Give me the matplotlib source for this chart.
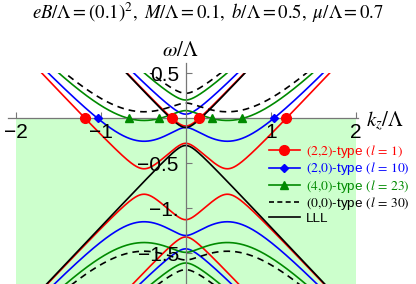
import numpy as np
import matplotlib
matplotlib.use("Agg")
import matplotlib.pyplot as plt
from matplotlib.patches import Rectangle
from matplotlib.lines import Line2D

plt.rcParams["mathtext.fontset"] = "stix"
plt.rcParams["font.family"] = ["Liberation Sans", "DejaVu Sans"]

# model parameters in units of Lambda (from the title)
eB = 0.1 ** 2
M = 0.1
b = 0.5
mu = 0.7

# Landau level types from the legend
level_types = ["(2,2)", "(2,0)", "(4,0)", "(0,0)"]
level_l = [1, 10, 23, 30]
level_colors = ["#ff0000", "#0000ff", "#008a00", "black"]
level_styles = ["-", "-", "-", "--"]
level_markers = ["o", "D", "^", None]
level_msizes = [7, 4, 6, 0]

kz_range = [-2.0, 2.0]
omega_top = 0.5

x_ticks = [-2, -1, 1, 2]
y_ticks = [-1.5, -1.0, -0.5, 0.5]
y_ticklabels = ["\u22121.5", "\u22121.", "\u22120.5", "0.5"]

W, H = 416, 284
fig = plt.figure(figsize=(W / 100, H / 100), dpi=100)
ax = fig.add_axes([0, 0, 1, 1])
# 0 at pixel (185.7, 118.5); 85 px per unit in k, 90 px per unit in omega
ax.set_xlim(-185.7 / 85, (W - 185.7) / 85)
ax.set_ylim(-(H - 118.5) / 90, 118.5 / 90)
ax.patch.set_alpha(0)

ymin = ax.get_ylim()[0]

# occupied states below the chemical potential
ax.fill_between(kz_range, [ymin, ymin], [0, 0], color="#ccffcc", lw=0, zorder=0.5)

clip = Rectangle((kz_range[0], ymin - 1), kz_range[1] - kz_range[0], omega_top - ymin + 1,
                 transform=ax.transData)

kz = np.linspace(kz_range[0], kz_range[1], 3001)
E0 = np.sqrt(kz ** 2 + M ** 2)

handles = []
labels = []
for name, l, c, ls, mk, ms in zip(level_types, level_l, level_colors, level_styles,
                                   level_markers, level_msizes):
    for s in (1, -1):
        for t in (1, -1):
            w = s * np.sqrt((b + t * E0) ** 2 + 2 * eB * l) - mu
            line, = ax.plot(kz, w, color=c, ls=ls, lw=1.2, zorder=2,
                            dashes=(4, 3) if ls == "--" else (None, None))
            line.set_clip_path(clip)
    # crossings with omega = 0
    if mk is not None and mu ** 2 > 2 * eB * l:
        r = np.sqrt(mu ** 2 - 2 * eB * l)
        e_roots = np.array([abs(r - b), r + b])
        e_roots = e_roots[e_roots > M]
        k_roots = np.sqrt(e_roots ** 2 - M ** 2)
        k_roots = np.concatenate([-k_roots, k_roots])
        ax.plot(k_roots, np.zeros_like(k_roots), ls="none", marker=mk, ms=ms,
                color=c, zorder=4)
    handles.append(Line2D([], [], color=c, lw=1.2, marker=mk, ms=ms,
                          dashes=(3, 2) if ls == "--" else (None, None)))
    labels.append(r"$%s$-type $(l\,=\,%d)$" % (name.replace(",", "{,}"), l))

# lowest Landau level
for t in (1, -1):
    line, = ax.plot(kz, b + t * E0 - mu, color="black", lw=1.2, zorder=2.2)
    line.set_clip_path(clip)
handles.append(Line2D([], [], color="black", lw=1.2))
labels.append("LLL")

# axes through the origin
for side in ["top", "right"]:
    ax.spines[side].set_visible(False)
ax.spines["left"].set_position(("data", 0))
ax.spines["bottom"].set_position(("data", 0))
ax.spines["bottom"].set_bounds(-2.09, 2.03)
ax.spines["left"].set_bounds(ymin, 0.62)
for side in ["left", "bottom"]:
    ax.spines[side].set_color("#777777")
    ax.spines[side].set_linewidth(0.9)
ax.set_axisbelow(False)

ax.set_xticks(x_ticks)
ax.set_yticks(y_ticks, labels=y_ticklabels)
ax.tick_params(direction="in", length=4, width=0.8, color="#777777", labelsize=15)
ax.tick_params(axis="x", pad=3.5)
ax.tick_params(axis="y", pad=5)

fig.text(180 / W, 1 - 50 / H, r"$\omega/\Lambda$", fontsize=15, ha="center", va="center")
fig.text(366 / W, 1 - 121 / H, r"$k_z/\Lambda$", fontsize=15, ha="left", va="center")

fig.text(0.5, 1 - 13 / H,
         r"$eB/\Lambda = (0.1)^2,\ M/\Lambda = 0.1,\ b/\Lambda = 0.5,\ \mu/\Lambda = 0.7$",
         fontsize=13.5, ha="center", va="center")

leg = ax.legend(handles, labels, loc="upper left",
                bbox_to_anchor=(269 / W, 1 - 143 / H), bbox_transform=fig.transFigure,
                frameon=False, fontsize=9.7, handlelength=2.3, handletextpad=0.45,
                labelspacing=0.03, borderpad=0, borderaxespad=0,
                labelcolor=level_colors + ["black"])
leg.set_zorder(5)

fig.savefig("out.png", dpi=100)
